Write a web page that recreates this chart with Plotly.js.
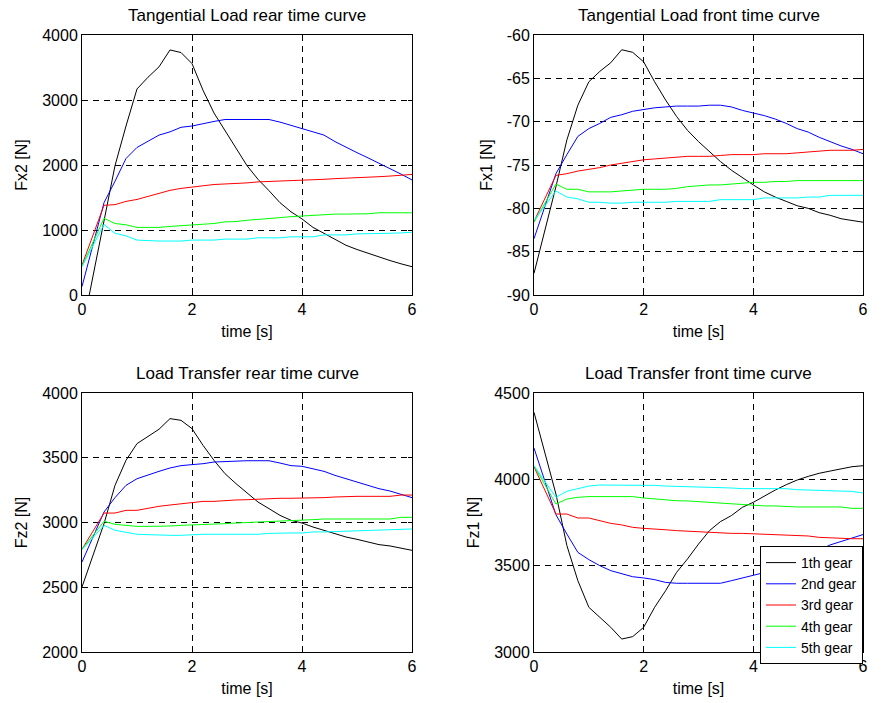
<!DOCTYPE html>
<html>
<head>
<meta charset="utf-8">
<script src="https://cdn.plot.ly/plotly-3.0.1.min.js"></script>
<style>html,body{margin:0;padding:0;background:#fff;}#chart{width:882px;height:703px;}</style>
</head>
<body>
<div id="chart"></div>
<script>
// time samples [s]
const time = [0, 0.2, 0.4, 0.6, 0.8, 1.0, 1.2, 1.4, 1.6, 1.8, 2.0, 2.2, 2.4, 2.6, 2.8, 3.0,
              3.2, 3.4, 3.6, 3.8, 4.0, 4.2, 4.4, 4.6, 4.8, 5.0, 5.2, 5.4, 5.6, 5.8, 6.0];
const gearNames = ["1th gear", "2nd gear", "3rd gear", "4th gear", "5th gear"];
const gearColors = ["#000000", "#0000ff", "#ff0000", "#00ff00", "#00ffff"];

// Tangential Load rear (Fx2 [N])
const fx2_g1 = [-560, 290, 1140, 1990, 2600, 3170, 3350, 3510, 3770, 3730, 3560, 3150, 2800, 2520, 2260, 1990, 1780, 1605, 1420, 1280, 1170, 1040, 950, 850, 765, 700, 640, 585, 530, 480, 435];
const fx2_g2 = [130, 780, 1420, 1750, 2100, 2270, 2370, 2460, 2510, 2580, 2600, 2640, 2670, 2700, 2700, 2700, 2700, 2700, 2660, 2610, 2560, 2500, 2460, 2360, 2270, 2190, 2110, 2030, 1950, 1860, 1770];
const fx2_g3 = [460, 920, 1380, 1390, 1440, 1470, 1520, 1570, 1610, 1640, 1655, 1680, 1700, 1705, 1720, 1725, 1740, 1745, 1755, 1760, 1760, 1775, 1780, 1790, 1795, 1800, 1815, 1820, 1830, 1845, 1855];
const fx2_g4 = [445, 810, 1180, 1100, 1080, 1040, 1040, 1040, 1055, 1065, 1075, 1085, 1100, 1125, 1130, 1150, 1160, 1170, 1190, 1205, 1215, 1235, 1245, 1245, 1245, 1245, 1250, 1265, 1265, 1265, 1265];
const fx2_g5 = [435, 760, 1085, 950, 910, 845, 835, 830, 830, 830, 845, 845, 845, 860, 860, 860, 880, 880, 880, 895, 895, 895, 925, 925, 925, 940, 940, 940, 950, 955, 965];

// Tangential Load front (Fx1 [N])
const fx1_g1 = [-87.5, -82.5, -77.5, -72.1, -68.1, -65.4, -64.2, -63.2, -61.7, -62.0, -63.1, -65.4, -67.5, -69.4, -71.0, -72.3, -73.5, -74.6, -75.6, -76.5, -77.3, -78.1, -78.7, -79.2, -79.7, -80.0, -80.5, -80.8, -81.2, -81.4, -81.6];
const fx1_g2 = [-83.5, -79.7, -76.0, -73.8, -71.7, -70.8, -70.2, -69.5, -69.2, -68.8, -68.6, -68.4, -68.3, -68.2, -68.2, -68.2, -68.1, -68.1, -68.3, -68.7, -69.0, -69.3, -69.7, -70.2, -70.8, -71.2, -71.8, -72.3, -72.8, -73.2, -73.7];
const fx1_g3 = [-81.5, -78.8, -76.2, -76.0, -75.7, -75.5, -75.3, -75.0, -74.8, -74.6, -74.4, -74.3, -74.2, -74.1, -74.0, -74.0, -74.0, -73.9, -73.8, -73.8, -73.8, -73.7, -73.7, -73.7, -73.6, -73.5, -73.4, -73.3, -73.3, -73.3, -73.2];
const fx1_g4 = [-81.6, -79.4, -77.2, -77.8, -77.8, -78.1, -78.1, -78.1, -78.0, -77.9, -77.8, -77.8, -77.8, -77.7, -77.5, -77.4, -77.3, -77.3, -77.2, -77.1, -77.0, -77.0, -76.9, -76.9, -76.8, -76.8, -76.8, -76.8, -76.8, -76.8, -76.8];
const fx1_g5 = [-81.4, -79.7, -78.0, -78.7, -78.9, -79.3, -79.3, -79.4, -79.4, -79.3, -79.3, -79.3, -79.3, -79.2, -79.2, -79.2, -79.2, -79.0, -79.0, -79.0, -79.0, -78.8, -78.8, -78.8, -78.8, -78.7, -78.7, -78.5, -78.5, -78.5, -78.5];

// Load Transfer rear (Fz2 [N])
const fz2_g1 = [2502, 2746, 2991, 3287, 3480, 3609, 3665, 3720, 3802, 3789, 3725, 3596, 3480, 3377, 3300, 3228, 3158, 3107, 3055, 3017, 2996, 2965, 2940, 2914, 2888, 2870, 2850, 2829, 2819, 2803, 2785];
const fz2_g2 = [2695, 2888, 3081, 3192, 3287, 3338, 3369, 3395, 3421, 3439, 3447, 3454, 3467, 3472, 3477, 3477, 3477, 3477, 3459, 3439, 3434, 3416, 3395, 3364, 3338, 3313, 3282, 3261, 3243, 3218, 3192];
const fz2_g3 = [2793, 2933, 3073, 3073, 3094, 3094, 3112, 3125, 3135, 3145, 3156, 3163, 3163, 3171, 3174, 3176, 3179, 3187, 3187, 3187, 3187, 3192, 3192, 3197, 3202, 3202, 3202, 3202, 3202, 3212, 3212];
const fz2_g4 = [2793, 2901, 3009, 2986, 2978, 2970, 2970, 2970, 2973, 2978, 2981, 2981, 2986, 2991, 2996, 2999, 3004, 3006, 3012, 3014, 3019, 3022, 3027, 3027, 3027, 3027, 3027, 3027, 3027, 3040, 3040];
const fz2_g5 = [2790, 2884, 2978, 2940, 2927, 2909, 2906, 2901, 2901, 2901, 2906, 2909, 2909, 2909, 2909, 2909, 2909, 2916, 2919, 2919, 2919, 2927, 2927, 2930, 2932, 2934, 2937, 2940, 2943, 2947, 2950];

// Load Transfer front (Fz1 [N])
const fz1_g1 = [4388, 4150, 3915, 3616, 3413, 3259, 3201, 3143, 3075, 3089, 3143, 3259, 3355, 3461, 3539, 3625, 3703, 3755, 3790, 3838, 3867, 3905, 3938, 3969, 3996, 4017, 4035, 4048, 4060, 4073, 4079];
const fz1_g2 = [4181, 3988, 3795, 3683, 3577, 3535, 3500, 3471, 3452, 3436, 3429, 3419, 3403, 3398, 3398, 3398, 3398, 3398, 3413, 3429, 3442, 3460, 3480, 3505, 3530, 3560, 3590, 3620, 3640, 3660, 3680];
const fz1_g3 = [4073, 3936, 3799, 3799, 3776, 3776, 3761, 3745, 3736, 3722, 3716, 3710, 3708, 3703, 3699, 3695, 3695, 3691, 3687, 3687, 3685, 3681, 3680, 3680, 3676, 3672, 3664, 3660, 3656, 3656, 3656];
const fz1_g4 = [4079, 3968, 3857, 3886, 3896, 3900, 3900, 3900, 3900, 3900, 3892, 3886, 3884, 3876, 3875, 3871, 3867, 3863, 3861, 3853, 3849, 3846, 3846, 3842, 3840, 3840, 3840, 3840, 3840, 3832, 3832];
const fz1_g5 = [4079, 3988, 3896, 3931, 3948, 3961, 3967, 3967, 3967, 3967, 3967, 3965, 3961, 3959, 3957, 3957, 3957, 3952, 3950, 3946, 3946, 3946, 3946, 3946, 3940, 3938, 3932, 3930, 3930, 3930, 3921];

// titles and tick labels
const panelTitles = ["Tangential Load rear time curve", "Tangential Load front time curve",
                     "Load Transfer rear time curve", "Load Transfer front time curve"];
const yTitles = ["Fx2 [N]", "Fx1 [N]", "Fz2 [N]", "Fz1 [N]"];
const xTitle = "time [s]";
const xTickVals = [0, 2, 4, 6];
const xTickText = ["0", "2", "4", "6"];
const fx2TickVals = [0, 1000, 2000, 3000, 4000];
const fx2TickText = ["0", "1000", "2000", "3000", "4000"];
const fx1TickVals = [-90, -85, -80, -75, -70, -65, -60];
const fx1TickText = ["-90", "-85", "-80", "-75", "-70", "-65", "-60"];
const fz2TickVals = [2000, 2500, 3000, 3500, 4000];
const fz2TickText = ["2000", "2500", "3000", "3500", "4000"];
const fz1TickVals = [3000, 3500, 4000, 4500];
const fz1TickText = ["3000", "3500", "4000", "4500"];

const FONT = "Liberation Sans, Arial, Helvetica, sans-serif";
const panels = [
  {series: [fx2_g1, fx2_g2, fx2_g3, fx2_g4, fx2_g5], xa: "x", ya: "y", legend: false},
  {series: [fx1_g1, fx1_g2, fx1_g3, fx1_g4, fx1_g5], xa: "x2", ya: "y2", legend: false},
  {series: [fz2_g1, fz2_g2, fz2_g3, fz2_g4, fz2_g5], xa: "x3", ya: "y3", legend: false},
  {series: [fz1_g1, fz1_g2, fz1_g3, fz1_g4, fz1_g5], xa: "x4", ya: "y4", legend: true}
];

const traces = [];
panels.forEach(p => {
  p.series.forEach((s, i) => {
    traces.push({
      x: time, y: s, type: "scatter", mode: "lines",
      name: gearNames[i], xaxis: p.xa, yaxis: p.ya,
      line: {color: gearColors[i], width: 1},
      showlegend: p.legend, hoverinfo: "x+y"
    });
  });
});

const W = 882, H = 703;
const colX = [[82 / W, 412 / W], [534 / W, 863 / W]];
const rowY = [[(H - 295) / H, (H - 35) / H], [(H - 652) / H, (H - 393) / H]];

function xAxis(dom, anchor) {
  return {
    domain: dom, anchor: anchor, range: [0, 6],
    tickvals: xTickVals, ticktext: xTickText,
    ticks: "inside", ticklen: 4, tickcolor: "#000", tickwidth: 1,
    showline: true, linecolor: "#000", linewidth: 1, mirror: "ticks",
    showgrid: true, gridcolor: "#000", gridwidth: 1, griddash: "6px,5px",
    zeroline: false, tickfont: {family: FONT, size: 16, color: "#000"},
    title: {text: xTitle, font: {family: FONT, size: 16, color: "#000"}, standoff: 8}
  };
}
function yAxis(dom, anchor, range, tv, tt, title) {
  return {
    domain: dom, anchor: anchor, range: range,
    tickvals: tv, ticktext: tt,
    ticks: "inside", ticklen: 4, tickcolor: "#000", tickwidth: 1,
    showline: true, linecolor: "#000", linewidth: 1, mirror: "ticks",
    showgrid: true, gridcolor: "#000", gridwidth: 1, griddash: "6px,5px",
    zeroline: false, tickfont: {family: FONT, size: 16, color: "#000"},
    title: {text: title, font: {family: FONT, size: 16, color: "#000"}, standoff: 10}
  };
}

const annotations = [];
const pos = [[0, 0], [1, 0], [0, 1], [1, 1]];
pos.forEach((cr, k) => {
  const xd = colX[cr[0]], yd = rowY[cr[1]];
  annotations.push({
    xref: "paper", yref: "paper", x: (xd[0] + xd[1]) / 2, y: yd[1],
    xanchor: "center", yanchor: "bottom", yshift: 8, showarrow: false,
    text: panelTitles[k], font: {family: FONT, size: 17, color: "#000"}
  });
});

const layout = {
  width: W, height: H,
  margin: {l: 0, r: 0, t: 0, b: 0},
  paper_bgcolor: "#fff", plot_bgcolor: "#fff",
  font: {family: FONT, size: 16, color: "#000"},
  xaxis: xAxis(colX[0], "y"),
  yaxis: yAxis(rowY[0], "x", [0, 4000], fx2TickVals, fx2TickText, yTitles[0]),
  xaxis2: xAxis(colX[1], "y2"),
  yaxis2: yAxis(rowY[0], "x2", [-90, -60], fx1TickVals, fx1TickText, yTitles[1]),
  xaxis3: xAxis(colX[0], "y3"),
  yaxis3: yAxis(rowY[1], "x3", [2000, 4000], fz2TickVals, fz2TickText, yTitles[2]),
  xaxis4: xAxis(colX[1], "y4"),
  yaxis4: yAxis(rowY[1], "x4", [3000, 4500], fz1TickVals, fz1TickText, yTitles[3]),
  showlegend: true,
  legend: {
    x: 760 / W, y: (H - 546) / H, xanchor: "left", yanchor: "top",
    bgcolor: "#fff", bordercolor: "#000", borderwidth: 1,
    font: {family: FONT, size: 14, color: "#000"},
    tracegroupgap: 0, itemclick: false
  },
  annotations: annotations
};

Plotly.newPlot("chart", traces, layout, {displayModeBar: false, staticPlot: true});
</script>
</body>
</html>
